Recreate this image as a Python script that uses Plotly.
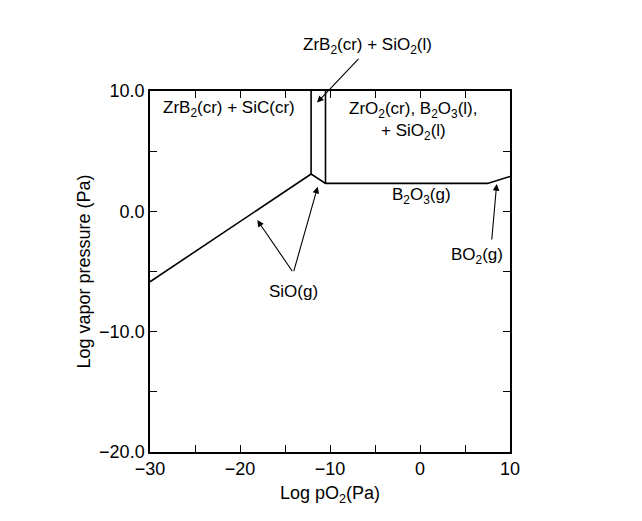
import plotly.graph_objects as go

# Phase boundary (Log pO2 vs Log vapor pressure)
boundary_x = [-30, -12.1, -10.5, 7.5, 10]
boundary_y = [-5.85, 3.1, 2.32, 2.32, 2.9]
# vertical phase boundaries
vline1_x = [-12.1, -12.1]
vline1_y = [3.1, 10]
vline2_x = [-10.5, -10.5]
vline2_y = [2.32, 10]

x_tickvals = [-30, -25, -20, -15, -10, -5, 0, 5, 10]
x_ticktext = ["−30", "", "−20", "", "−10", "", "0", "", "10"]
y_tickvals = [-20, -15, -10, -5, 0, 5, 10]
y_ticktext = ["−20.0", "", "−10.0", "", "0.0", "", "10.0"]

FONT = "Liberation Sans, Arial, sans-serif"

fig = go.Figure()
for xs, ys in [(boundary_x, boundary_y), (vline1_x, vline1_y), (vline2_x, vline2_y)]:
    fig.add_trace(go.Scatter(x=xs, y=ys, mode="lines",
                             line=dict(color="black", width=1.6),
                             showlegend=False, hoverinfo="skip"))

# text labels: (text, x, y) in data coordinates
labels = [
    ("ZrB<sub>2</sub>(cr) + SiC(cr)", -21.25, 8.5),
    ("ZrO<sub>2</sub>(cr), B<sub>2</sub>O<sub>3</sub>(l),", -0.7, 8.4),
    ("+ SiO<sub>2</sub>(l)", -0.75, 6.6),
    ("B<sub>2</sub>O<sub>3</sub>(g)", 0.2, 1.3),
    ("BO<sub>2</sub>(g)", 6.3, -3.7),
    ("SiO(g)", -14.1, -6.7),
]
for t, x, y in labels:
    fig.add_annotation(x=x, y=y, xref="x", yref="y", text=t, showarrow=False,
                       font=dict(family=FONT, size=17, color="black"))

# label above the plot (paper coordinates)
fig.add_annotation(x=0.603, y=1.16, xref="paper", yref="paper",
                   text="ZrB<sub>2</sub>(cr) + SiO<sub>2</sub>(l)", showarrow=False,
                   font=dict(family=FONT, size=17, color="black"))

# arrows: (tail_x, tail_y, head_x, head_y)
arrows = [
    (-6.67, 12.8, -11.44, 9.04),
    (-14.07, -5.1, -18.08, -0.73),
    (-14.07, -5.1, -11.37, 2.04),
    (7.96, -2.46, 8.52, 2.27),
]
for tx, ty, hx, hy in arrows:
    fig.add_annotation(x=hx, y=hy, ax=tx, ay=ty, xref="x", yref="y",
                       axref="x", ayref="y", text="", showarrow=True,
                       arrowhead=2, arrowsize=1.2, arrowwidth=1.1, arrowcolor="black")

axis_common = dict(
    showline=True, linecolor="black", linewidth=1.5, mirror="allticks",
    ticks="inside", ticklen=7, tickwidth=1.2, tickcolor="black",
    showgrid=False, zeroline=False,
    tickfont=dict(family=FONT, size=18, color="black"),
)

fig.update_xaxes(range=[-30, 10], tickmode="array", tickvals=x_tickvals,
                 ticktext=x_ticktext,
                 title=dict(text="Log pO<sub>2</sub>(Pa)", standoff=8,
                            font=dict(family=FONT, size=18, color="black")),
                 **axis_common)
fig.update_yaxes(range=[-20, 10], tickmode="array", tickvals=y_tickvals,
                 ticktext=y_ticktext,
                 title=dict(text="Log vapor pressure (Pa)", standoff=4,
                            font=dict(family=FONT, size=18, color="black")),
                 **axis_common)

fig.update_layout(
    width=642, height=521,
    margin=dict(l=142, r=140, t=83, b=77),
    plot_bgcolor="white", paper_bgcolor="white",
    font=dict(family=FONT, color="black"),
)

fig.write_html("out.html")
